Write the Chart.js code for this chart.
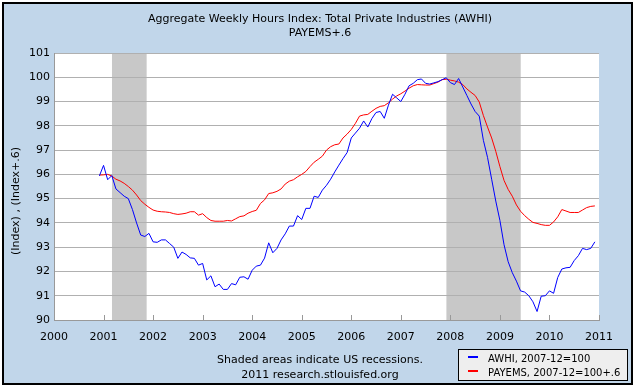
<!DOCTYPE html>
<html lang="en">
<head>
    <meta charset="UTF-8">
    <title>Aggregate Weekly Hours Index: Total Private Industries (AWHI)</title>
    <script src="https://cdn.jsdelivr.net/npm/chart.js"></script>
    <style>
        body { margin: 0; background: #fff; }
        canvas { display: block; }
    </style>
</head>
<body>
    <canvas id="chartCanvas" width="635" height="387"></canvas>
    <script>
        // Serie mensual, de dic-2000 a dic-2010
        const firstMonth = 2000 + 11 / 12;
        const awhi = [
            95.94, 96.37, 95.78, 95.95, 95.4, 95.25, 95.1, 95.0, 94.55, 94.0, 93.5, 93.44,
            93.57, 93.22, 93.2, 93.3, 93.3, 93.15, 93.0, 92.54, 92.8, 92.7, 92.56, 92.54,
            92.26, 92.33, 91.65, 91.82, 91.37, 91.48, 91.26, 91.26, 91.5, 91.45, 91.76, 91.78,
            91.68, 92.05, 92.22, 92.26, 92.55, 93.18, 92.77, 92.95, 93.3, 93.55, 93.87, 93.87,
            94.3, 94.14, 94.6, 94.6, 95.1, 95.05, 95.35, 95.55, 95.8, 96.1, 96.38, 96.65,
            96.9, 97.5, 97.7, 97.9, 98.2, 97.95, 98.3, 98.55, 98.59, 98.31, 98.85, 99.3,
            99.15, 99.0, 99.3, 99.65, 99.75, 99.9, 99.93, 99.75, 99.72, 99.77, 99.82, 99.9,
            99.98, 99.78, 99.7, 99.95, 99.6, 99.25, 98.9, 98.59, 98.4, 97.4, 96.7, 95.8,
            94.9, 94.1, 93.1, 92.4, 91.95, 91.6, 91.2, 91.15, 91.0, 90.75, 90.35, 90.98,
            91.0, 91.2, 91.1, 91.75, 92.1, 92.15, 92.17, 92.45, 92.65, 92.95, 92.9, 92.95,
            93.22
        ];
        const payems = [
            95.97, 95.98, 96.0, 95.93, 95.8, 95.73, 95.63, 95.5, 95.35, 95.15, 94.92, 94.77,
            94.64, 94.53, 94.48, 94.46, 94.45, 94.43, 94.38, 94.35, 94.37, 94.4, 94.46, 94.46,
            94.32, 94.38, 94.22, 94.1, 94.07, 94.07, 94.07, 94.1, 94.08, 94.17, 94.26, 94.29,
            94.4, 94.47, 94.52, 94.8, 94.95, 95.21, 95.24, 95.3, 95.4, 95.6, 95.72, 95.78,
            95.9, 96.0, 96.12, 96.32, 96.5, 96.62, 96.75, 97.0, 97.14, 97.22, 97.25, 97.5,
            97.66, 97.85, 98.1, 98.4, 98.45, 98.47, 98.6, 98.72, 98.8, 98.83, 98.95, 99.1,
            99.23, 99.32, 99.43, 99.55, 99.65, 99.7, 99.69, 99.68, 99.68, 99.74, 99.8, 99.9,
            99.92, 99.88, 99.85, 99.8, 99.7, 99.52, 99.38, 99.25, 98.98, 98.42, 97.95, 97.5,
            96.95, 96.32, 95.75, 95.38, 95.1, 94.74, 94.48, 94.3, 94.15, 94.02, 93.98, 93.93,
            93.9, 93.9, 94.04, 94.25, 94.55, 94.49, 94.43, 94.43, 94.43, 94.53, 94.63, 94.68,
            94.7
        ];
        const months = awhi.map((v, i) => firstMonth + i / 12);

        // Recesiones (años decimales)
        const recessionStart = [2001.17, 2007.92];
        const recessionEnd = [2001.87, 2009.42];

        const xTicks = [2000, 2001, 2002, 2003, 2004, 2005, 2006, 2007, 2008, 2009, 2010, 2011];
        const yTicks = [90, 91, 92, 93, 94, 95, 96, 97, 98, 99, 100, 101];

        const titleLines = ['Aggregate Weekly Hours Index: Total Private Industries (AWHI)', 'PAYEMS+.6'];
        const yTitle = '(Index) , (Index+.6)';
        const footerLines = ['Shaded areas indicate US recessions.', '2011 research.stlouisfed.org'];
        const seriesLabels = ['AWHI, 2007-12=100', 'PAYEMS, 2007-12=100+.6'];
        const seriesColors = ['#0000ff', '#ff0000'];

        const FONT = '11px "DejaVu Sans"';

        const framePlugin = {
            id: 'frame',
            beforeDraw(chart) {
                const c = chart.ctx;
                const a = chart.chartArea;
                const x = chart.scales.x;
                c.save();
                c.fillStyle = '#ffffff';
                c.fillRect(0, 0, chart.width, chart.height);
                c.fillStyle = '#c1d6ea';
                c.fillRect(3, 3, 629, 381);
                c.strokeStyle = '#000';
                c.lineWidth = 2;
                c.strokeRect(3, 3, 629, 381);
                c.fillStyle = '#ffffff';
                c.fillRect(a.left, a.top, a.right - a.left, a.bottom - a.top);
                c.fillStyle = '#c8c8c8';
                recessionStart.forEach((s, i) => {
                    const x0 = x.getPixelForValue(s);
                    const x1 = x.getPixelForValue(recessionEnd[i]);
                    c.fillRect(x0, a.top, x1 - x0, a.bottom - a.top);
                });
                c.restore();
            },
            afterDraw(chart) {
                const c = chart.ctx;
                const a = chart.chartArea;
                const x = chart.scales.x;
                c.save();
                // marcas del eje x hacia dentro
                c.strokeStyle = '#999';
                c.lineWidth = 1;
                xTicks.forEach(t => {
                    const px = Math.round(x.getPixelForValue(t)) + 0.5;
                    c.beginPath();
                    c.moveTo(px, a.bottom);
                    c.lineTo(px, a.bottom - 5);
                    c.stroke();
                });
                c.fillStyle = '#000';
                c.font = FONT;
                c.textAlign = 'center';
                c.textBaseline = 'middle';
                c.fillText(titleLines[0], 320, 19);
                c.fillText(titleLines[1], 320, 33);
                c.fillText(footerLines[0], 320, 360);
                c.fillText(footerLines[1], 320, 375);
                // título eje y
                c.save();
                c.translate(16, 201);
                c.rotate(-Math.PI / 2);
                c.fillText(yTitle, 0, 0);
                c.restore();
                // leyenda
                c.fillStyle = '#eeeeee';
                c.fillRect(458, 349, 169, 31);
                c.strokeStyle = '#000';
                c.strokeRect(458.5, 349.5, 169, 31);
                c.textAlign = 'left';
                c.font = '10px "DejaVu Sans"';
                seriesLabels.forEach((lab, i) => {
                    const yy = 358 + i * 14;
                    c.fillStyle = seriesColors[i];
                    c.fillRect(468, yy - 2, 10, 2);
                    c.fillStyle = '#000';
                    c.fillText(lab, 488, yy + 1);
                });
                c.restore();
            }
        };

        const ctx = document.getElementById('chartCanvas').getContext('2d');
        new Chart(ctx, {
            type: 'line',
            data: {
                datasets: [
                    {
                        label: seriesLabels[0],
                        data: months.map((m, i) => ({ x: m, y: awhi[i] })),
                        borderColor: seriesColors[0],
                        borderWidth: 1,
                        pointRadius: 0,
                        tension: 0,
                        fill: false
                    },
                    {
                        label: seriesLabels[1],
                        data: months.map((m, i) => ({ x: m, y: payems[i] })),
                        borderColor: seriesColors[1],
                        borderWidth: 1,
                        pointRadius: 0,
                        tension: 0,
                        fill: false
                    }
                ]
            },
            options: {
                responsive: false,
                animation: false,
                events: [],
                layout: { padding: { left: 0, right: 36, top: 53, bottom: 47 } },
                scales: {
                    x: {
                        type: 'linear',
                        min: xTicks[0],
                        max: xTicks[xTicks.length - 1],
                        afterBuildTicks: s => { s.ticks = xTicks.map(v => ({ value: v })); },
                        afterFit: s => { s.height = 20; },
                        ticks: {
                            callback: v => String(v),
                            color: '#000',
                            font: { family: 'DejaVu Sans', size: 11 },
                            padding: 3,
                            maxRotation: 0,
                            autoSkip: false
                        },
                        grid: { display: false },
                        border: { display: true, color: '#999' }
                    },
                    y: {
                        min: yTicks[0],
                        max: yTicks[yTicks.length - 1],
                        afterBuildTicks: s => { s.ticks = yTicks.map(v => ({ value: v })); },
                        afterFit: s => { s.width = 54; },
                        ticks: {
                            color: '#000',
                            font: { family: 'DejaVu Sans', size: 11 },
                            padding: 4
                        },
                        grid: { color: '#b0b0b0', drawTicks: false },
                        border: { display: true, color: '#999' }
                    }
                },
                plugins: {
                    legend: { display: false },
                    tooltip: { enabled: false }
                }
            },
            plugins: [framePlugin]
        });
    </script>
</body>
</html>
